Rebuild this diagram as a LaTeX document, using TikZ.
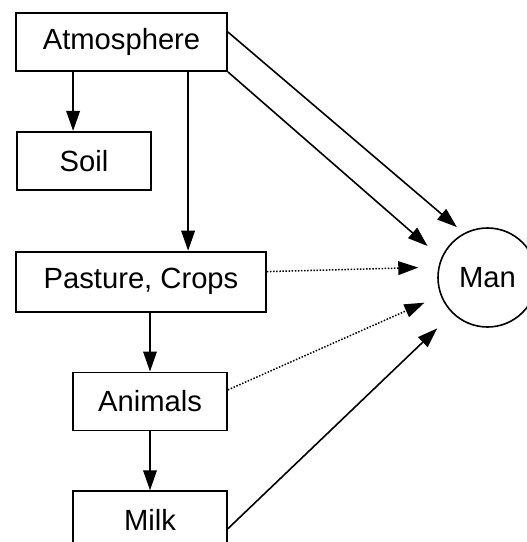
\documentclass[tikz,border=0pt]{standalone}
\usepackage{fontspec}
\setmainfont{Liberation Sans}
\usetikzlibrary{arrows.meta,positioning}

\begin{document}
\begin{tikzpicture}[
    x=0.5pt, y=-0.5pt,
    font=\fontsize{14.6pt}{17pt}\selectfont,
    block/.style={rectangle, draw, line width=0.9pt, minimum height=29pt, inner sep=0pt},
    arrow/.style={-{Triangle[length=10pt,width=6.8pt]}, line width=0.8pt},
    dotarrow/.style={arrow, line width=0.75pt, dash pattern=on 0.75pt off 0.8pt}
]
\useasboundingbox (0,0) rectangle (526,542);

% Sources
\node[block, minimum width=105.5pt] (atm) at (121.5,42) {Atmosphere};
\node[block, minimum width=67pt, below=29.5pt of atm.south west, anchor=north west, xshift=0.5pt] (soil) {Soil};

% Food chain
\node[block, minimum width=125pt, minimum height=30pt, below=30pt of soil.south west, anchor=north west, xshift=-0.5pt] (pasture) {Pasture, Crops};
\node[block, minimum width=77pt, below=29.5pt of pasture.south, anchor=north, xshift=4.5pt] (animals) {Animals};
\node[block, minimum width=77pt, below=29.5pt of animals] (milk) {Milk};

% Receiver
\node[circle, draw, line width=0.8pt, minimum size=49.5pt, inner sep=0pt] (man) at (487.5,277.5) {Man};

% Arrows
\draw[arrow] ([xshift=29pt]atm.south west) -- ([xshift=29pt]atm.south west |- soil.north);
\draw[arrow] ([xshift=86.5pt]atm.south west) -- ([xshift=86.5pt]atm.south west |- pasture.north);
\draw[arrow] (pasture.south -| animals.north) -- (animals.north);
\draw[arrow] (animals) -- (milk);

% Pathways to man
\draw[arrow, shorten >=4.6pt] ([yshift=5pt]atm.east) -- (man.118.3);
\draw[arrow, shorten >=9pt] (atm.south east) -- (man.157.9);
\draw[dotarrow, shorten >=10pt] ([yshift=5pt]pasture.east) -- (man.168.9);
\draw[dotarrow, shorten >=8.8pt] ([yshift=5.75pt]animals.east) -- (man.201);
\draw[arrow, shorten >=10.6pt] ([yshift=-4.25pt]milk.east) -- (man.226.8);

\end{tikzpicture}
\end{document}
